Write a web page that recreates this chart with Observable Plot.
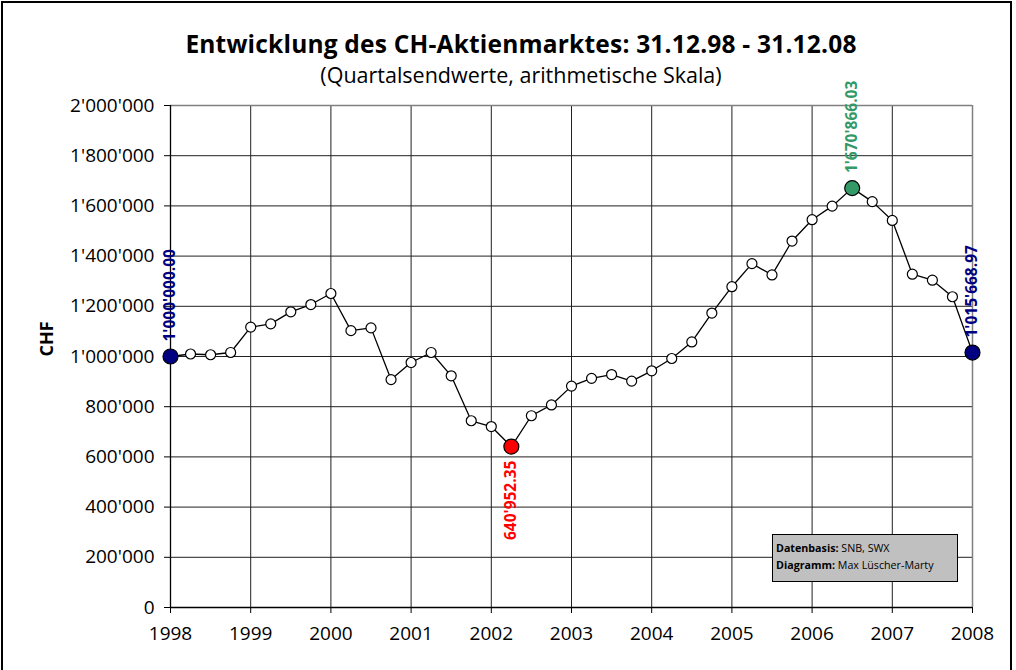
<!DOCTYPE html>
<html>
<head>
<meta charset="utf-8">
<script src="https://cdn.jsdelivr.net/npm/d3@7"></script>
<script src="https://cdn.jsdelivr.net/npm/@observablehq/plot@0.6"></script>
<style>
  html, body { margin: 0; padding: 0; background: #fff; }
  #wrap { position: relative; width: 1016px; height: 670px; overflow: hidden; background: #fff; font-family: "Open Sans", sans-serif; }
  #border { position: absolute; left: 1px; top: 1px; width: 1011px; height: 700px; border: 2px solid #000; box-sizing: border-box; pointer-events: none; }
  #title { position: absolute; left: 0; top: 27px; width: 1042px; text-align: center; font-weight: bold; font-size: 24.5px; color: #000; line-height: 34px; letter-spacing: 0.2px; }
  #subtitle { position: absolute; left: 0; top: 61px; width: 1042px; text-align: center; font-size: 21.5px; color: #000; line-height: 28px; }
  #chart { position: absolute; left: 0; top: 80px; }
  #note { position: absolute; left: 772px; top: 534px; width: 186px; height: 48px; box-sizing: border-box; background: #c0c0c0; border: 1px solid #000; font-size: 10.7px; line-height: 17px; padding: 5px 0 0 3px; color: #000; }
</style>
</head>
<body>
<div id="wrap">
  <div id="title">Entwicklung des CH-Aktienmarktes: 31.12.98 - 31.12.08</div>
  <div id="subtitle">(Quartalsendwerte, arithmetische Skala)</div>
  <div id="chart"></div>
  <div id="note"><b>Datenbasis:</b> SNB, SWX<br><b>Diagramm:</b> Max Lüscher-Marty</div>
  <div id="border"></div>
</div>
<script>
// Quarter-end positions (year fractions) and index values in CHF
const quarters = [
  1998.00, 1998.25, 1998.50, 1998.75,
  1999.00, 1999.25, 1999.50, 1999.75,
  2000.00, 2000.25, 2000.50, 2000.75,
  2001.00, 2001.25, 2001.50, 2001.75,
  2002.00, 2002.25, 2002.50, 2002.75,
  2003.00, 2003.25, 2003.50, 2003.75,
  2004.00, 2004.25, 2004.50, 2004.75,
  2005.00, 2005.25, 2005.50, 2005.75,
  2006.00, 2006.25, 2006.50, 2006.75,
  2007.00, 2007.25, 2007.50, 2007.75,
  2008.00
];
const values = [
  1000000.00, 1010000, 1007000, 1016000,
  1117000, 1130000, 1178000, 1207000,
  1251000, 1103000, 1114000, 908000,
  976000, 1016000, 923000, 744000,
  721000, 640952.35, 764000, 807000,
  882000, 913000, 928000, 902000,
  943000, 992000, 1058000, 1173000,
  1278000, 1370000, 1325000, 1460000,
  1545000, 1599000, 1670866.03, 1617000,
  1542000, 1328000, 1304000, 1238000,
  1015668.97
];
// Highlighted points
const highlightIdx   = [0, 17, 34, 40];
const highlightColor = ["#000080", "#ff0000", "#339966", "#000080"];
const highlightLabel = ["1'000'000.00", "640'952.35", "1'670'866.03", "1'015'668.97"];
const highlightSide  = ["above", "below", "above", "above"];

const xTicks = [1998, 1999, 2000, 2001, 2002, 2003, 2004, 2005, 2006, 2007, 2008];
const yTicks = [0, 200000, 400000, 600000, 800000, 1000000, 1200000, 1400000, 1600000, 1800000, 2000000];

const data = quarters.map((q, i) => ({q, v: values[i]}));
const hi = highlightIdx.map((k, j) => ({q: quarters[k], v: values[k], color: highlightColor[j], label: highlightLabel[j], side: highlightSide[j]}));

const locale = d3.formatLocale({decimal: ".", thousands: "'", grouping: [3], currency: ["", ""]});
const fmt = locale.format(",d");

const chart = Plot.plot({
  width: 1016,
  height: 590,
  marginLeft: 170,
  marginRight: 44,
  marginTop: 25,
  marginBottom: 63,
  style: {fontFamily: "Open Sans, sans-serif", fontSize: "19px", color: "#000", background: "transparent", overflow: "visible"},
  x: {domain: [1998, 2008]},
  y: {domain: [0, 2000000]},
  marks: [
    Plot.gridX(xTicks, {stroke: "#202020", strokeOpacity: 1, strokeWidth: 1}),
    Plot.gridY(yTicks, {stroke: "#202020", strokeOpacity: 1, strokeWidth: 1}),
    Plot.ruleY([2000000], {stroke: "#808080", strokeWidth: 1.5}),
    Plot.ruleX([2008], {stroke: "#808080", strokeWidth: 1.5}),
    Plot.ruleX([1998], {stroke: "#000", strokeWidth: 1.3}),
    Plot.ruleY([0], {stroke: "#000", strokeWidth: 1.3}),
    Plot.axisX({ticks: xTicks, tickFormat: "d", tickSize: 6, tickPadding: 13, label: null, fontSize: 19}),
    Plot.axisY({ticks: yTicks, tickFormat: fmt, tickSize: 6, tickPadding: 10, label: null, fontSize: 19}),
    Plot.text(["CHF"], {frameAnchor: "left", dx: -123, rotate: -90, fontWeight: "bold", fontSize: 18}),
    Plot.line(data, {x: "q", y: "v", stroke: "#000", strokeWidth: 1.3}),
    Plot.dot(data, {x: "q", y: "v", r: 5, fill: "#fff", stroke: "#000", strokeWidth: 1.2}),
    Plot.dot(hi, {x: "q", y: "v", r: 7.5, fill: "color", stroke: "#000", strokeWidth: 1.2}),
    Plot.text(hi.filter(d => d.side === "above"), {x: "q", y: "v", text: "label", fill: "color", rotate: -90, textAnchor: "start", lineAnchor: "middle", dy: -15, fontWeight: "bold", fontSize: 15.5}),
    Plot.text(hi.filter(d => d.side === "below"), {x: "q", y: "v", text: "label", fill: "color", rotate: -90, textAnchor: "end", lineAnchor: "middle", dy: 14, fontWeight: "bold", fontSize: 15.5})
  ]
});
document.getElementById("chart").appendChild(chart);
</script>
</body>
</html>
